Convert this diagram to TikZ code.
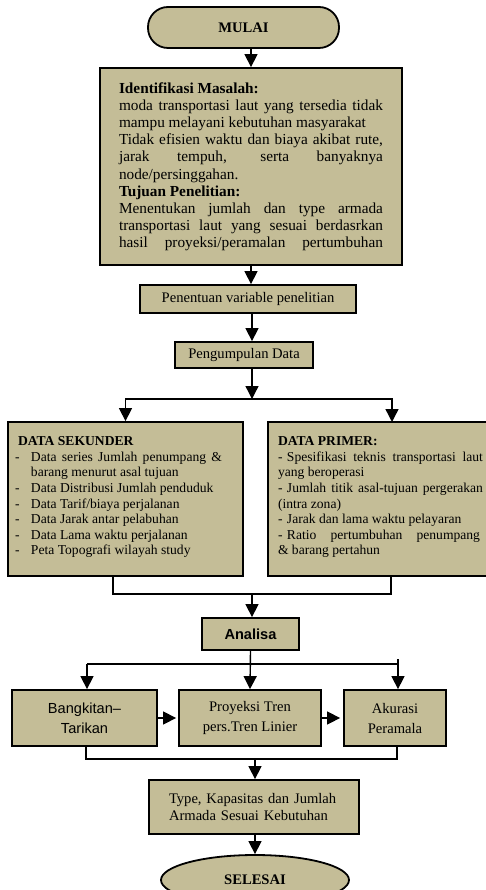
\documentclass[tikz,border=0pt]{standalone}
\usepackage{fontspec}
\setmainfont{Liberation Serif}
\newfontfamily\arialfont{Liberation Sans}
\usetikzlibrary{arrows.meta}
\usetikzlibrary{shapes.geometric}
\definecolor{tanfill}{RGB}{196,189,151}
\newcommand{\jline}[2]{\makebox[#1][s]{#2}}
\newcommand{\itemdash}[1]{\makebox[#1][l]{-}}

\begin{document}
\begin{tikzpicture}[x=1pt,y=-1pt,
	box/.style={draw, fill=tanfill, line width=1.8pt, inner sep=0pt, align=center,
		font=\fontsize{14.6}{16.8}\selectfont},
	arr/.style={-{Triangle[length=13pt,width=13pt]}, line width=1.4pt},
	conn/.style={line width=1.4pt}]

	\useasboundingbox (0,0) rectangle (485,890);

	\node[box, rounded corners=20pt, minimum width=191pt, minimum height=41pt] (mulai) at (243.5,27.5) {\raisebox{-3pt}{\textbf{MULAI}}};

	\node[box, minimum width=302pt, minimum height=197pt] (idbox) at (251,166.5) {%
		\parbox[c][197pt][t]{264pt}{\fontsize{15.3}{17.2}\selectfont\vspace*{13pt}%
			\strut\textbf{Identifikasi Masalah:}\\
			\jline{\linewidth}{moda transportasi laut yang tersedia tidak}\\
			mampu melayani kebutuhan masyarakat\\
			\jline{\linewidth}{Tidak efisien waktu dan biaya akibat rute,}\\
			\jline{\linewidth}{jarak tempuh, serta banyaknya}\\
			node/persinggahan.\\
			\textbf{Tujuan Penelitian:}\\
			\jline{\linewidth}{Menentukan jumlah dan type armada}\\
			\jline{\linewidth}{transportasi laut yang sesuai berdasrkan}\\
			\jline{\linewidth}{hasil proyeksi/peramalan pertumbuhan}}};

	\node[box, minimum width=216pt, minimum height=28pt] (var) at (248,299) {\raisebox{-5pt}{Penentuan variable penelitian}};
	\node[box, minimum width=138pt, minimum height=26pt] (data) at (244,355) {\raisebox{-4pt}{Pengumpulan Data}};

	\node[box, minimum width=235pt, minimum height=154pt] (sek) at (125.5,499) {%
		\parbox[c][154pt][t]{221pt}{\fontsize{13.6}{15.6}\selectfont\vspace*{12.7pt}%
			\strut\hspace*{3pt}\textbf{DATA SEKUNDER}\\
			\itemdash{16pt}\jline{191pt}{Data series Jumlah penumpang \&}\\
			\hspace*{16pt}barang menurut asal tujuan\\
			\itemdash{16pt}Data Distribusi Jumlah penduduk\\
			\itemdash{16pt}Data Tarif/biaya perjalanan\\
			\itemdash{16pt}Data Jarak antar pelabuhan\\
			\itemdash{16pt}Data Lama waktu perjalanan\\
			\itemdash{16pt}Peta Topografi wilayah study}};

	\node[box, minimum width=227pt, minimum height=154pt] (prim) at (381.5,499) {%
		\parbox[c][154pt][t]{207pt}{\fontsize{13.6}{15.6}\selectfont\vspace*{12.7pt}%
			\strut\textbf{DATA PRIMER:}\\
			\itemdash{9pt}\jline{196pt}{Spesifikasi teknis transportasi laut}\\
			yang beroperasi\\
			\itemdash{9pt}\jline{196pt}{Jumlah titik asal-tujuan pergerakan}\\
			(intra zona)\\
			\itemdash{9pt}Jarak dan lama waktu pelayaran\\
			\itemdash{9pt}\jline{193pt}{Ratio pertumbuhan penumpang}\\
			\& barang pertahun}};

	\node[box, minimum width=97pt, minimum height=32pt,
		font=\arialfont\bfseries\fontsize{14.6}{16.8}\selectfont] (analisa) at (250.5,634) {Analisa};

	\node[box, minimum width=145pt, minimum height=56pt,
		font=\arialfont\fontsize{14.6}{20}\selectfont] (bang) at (84.5,718) {Bangkitan–\\Tarikan};
	\node[box, minimum width=142pt, minimum height=56pt,
		font=\fontsize{14.6}{20}\selectfont] (proy) at (250,718) {Proyeksi Tren\\pers.Tren Linier};
	\node[box, minimum width=102pt, minimum height=56pt,
		font=\fontsize{14.6}{20}\selectfont] (akur) at (395,718) {Akurasi\\Peramala};

	\node[box, minimum width=210pt, minimum height=54pt, text width=170pt, align=left] (type) at (254,807) {Type, Kapasitas dan Jumlah\\Armada Sesuai Kebutuhan};

	\node[box, ellipse, minimum width=188pt, minimum height=50pt] (selesai) at (255,880) {\textbf{SELESAI}};

	% junctions
	\coordinate (split1) at (252,399);
	\coordinate (primin) at (392,422);
	\coordinate (sekout) at (113,576);
	\coordinate (primout) at (391,576);
	\coordinate (join1) at (252,594);
	\coordinate (bangin) at (87,664);
	\coordinate (akurin) at (398,659);
	\coordinate (bangout) at (86,746);
	\coordinate (akurout) at (397,746);
	\coordinate (join2) at (255,759);

	\draw[arr] (mulai.south -| idbox.north) -- (idbox.north);
	\draw[arr] (idbox.south) -- (idbox.south |- var.north);
	\draw[arr] (var.south -| split1) -- (data.north -| split1);
	\draw[arr] (data.south -| split1) -- (split1);
	\draw[arr] (split1) -| (sek.north);
	\draw[arr] (split1) -| (primin);

	\draw[conn] (sekout) |- (join1);
	\draw[conn] (primout) |- (join1);
	\draw[arr] (join1) -- (analisa.north -| join1);

	\draw[arr] (analisa.south) -- (proy.north);
	\draw[conn] (bangin) -- (bangin -| akurin);
	\draw[arr] (bangin) -- (bangin |- bang.north);
	\draw[arr] (akurin) -- (akurin |- akur.north);
	\draw[arr, shorten >=2pt] (bang.east) -- (proy.west);
	\draw[arr, shorten >=3pt] (proy.east) -- (akur.west);

	\draw[conn] (bangout) |- (join2);
	\draw[conn] (akurout) |- (join2);
	\draw[arr] (join2) -- (type.north -| join2);
	\draw[arr] (type.south -| selesai.north) -- (selesai.north);
\end{tikzpicture}
\end{document}
